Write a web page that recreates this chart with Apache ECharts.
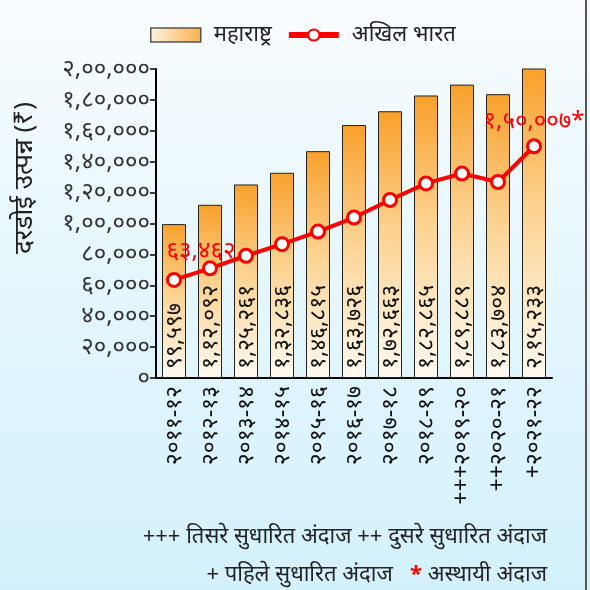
<!DOCTYPE html>
<html>
<head>
<meta charset="utf-8">
<script src="https://cdn.jsdelivr.net/npm/echarts@6/dist/echarts.min.js"></script>
<style>
  html, body { margin: 0; padding: 0; }
  #myChart {
    width: 590px;
    height: 590px;
    background: linear-gradient(to bottom, #f9fcfe 0%, #e4f6fc 50%, #d3f1fc 100%);
  }
</style>
</head>
<body>
<div id="myChart"></div>
<script>
  var years = ['२०११-१२', '२०१२-१३', '२०१३-१४', '२०१४-१५', '२०१५-१६', '२०१६-१७', '२०१७-१८', '२०१८-१९', '+++२०१९-२०', '++२०२०-२१', '+२०२१-२२']
  var maharashtra = [99597, 112092, 125261, 132836, 146815, 163726, 172663, 182865, 189889, 183704, 215233]
  var india = [63462, 70983, 79118, 86647, 94797, 103870, 115224, 125946, 132341, 126855, 150007]

  var font = '"Noto Sans", "DejaVu Sans", sans-serif'
  var digits = '०१२३४५६७८९'

  // Indian grouping + Devanagari digits
  function mr (n) {
    var s = String(Math.round(n))
    var last = s.slice(-3)
    var rest = s.slice(0, -3)
    if (rest) {
      rest = rest.replace(/\B(?=(\d{2})+(?!\d))/g, ',')
      s = rest + ',' + last
    } else {
      s = last
    }
    return s.replace(/\d/g, function (d) { return digits[+d] })
  }

  var barColor = new echarts.graphic.LinearGradient(0, 1, 1, 0, [
    { offset: 0, color: '#fefaf3' },
    { offset: 0.55, color: '#fcd290' },
    { offset: 1, color: '#f8a02a' }
  ])

  var myChart = echarts.init(document.getElementById('myChart'))
  var option = {
    animation: false,
    legend: {
      left: 145,
      top: 19,
      itemWidth: 50,
      itemHeight: 14,
      itemGap: 14,
      textStyle: { fontFamily: font, fontSize: 22, color: '#222', padding: [0, 0, 0, 8] },
      data: [
        { name: 'महाराष्ट्र', icon: 'rect', itemStyle: { borderColor: '#555', borderWidth: 1.5, color: new echarts.graphic.LinearGradient(0, 0, 1, 0, [{ offset: 0, color: '#fdf3e2' }, { offset: 1, color: '#f9b04c' }]) } },
        { name: 'अखिल भारत', lineStyle: { width: 6, color: '#f00' } }
      ]
    },
    grid: { left: 156, right: 38, top: 69, bottom: 212 },
    xAxis: {
      type: 'category',
      data: years,
      axisLine: { lineStyle: { color: '#000', width: 2 } },
      axisTick: { alignWithLabel: true, length: 6, lineStyle: { color: '#000', width: 1.5 } },
      axisLabel: { rotate: 90, fontFamily: font, fontSize: 23, color: '#111', margin: 8 }
    },
    yAxis: {
      type: 'value',
      min: 0,
      max: 200000,
      interval: 20000,
      splitLine: { show: false },
      axisLine: { show: true, lineStyle: { color: '#000', width: 2 } },
      axisTick: { show: true, length: 6, lineStyle: { color: '#000', width: 1.5 } },
      axisLabel: {
        fontFamily: font, fontSize: 24, color: '#333', margin: 6,
        formatter: function (v) { return mr(v) }
      }
    },
    series: [
      {
        name: 'महाराष्ट्र',
        type: 'bar',
        data: maharashtra,
        barWidth: 24,
        itemStyle: { borderColor: '#222', borderWidth: 1, color: barColor },
        label: {
          show: true,
          position: 'insideBottom',
          distance: 9,
          rotate: 90,
          align: 'left',
          verticalAlign: 'middle',
          fontFamily: font,
          fontSize: 23,
          color: '#111',
          formatter: function (p) { return mr(p.value) }
        }
      },
      {
        name: 'अखिल भारत',
        type: 'line',
        data: india,
        symbol: 'circle',
        symbolSize: 13,
        lineStyle: { color: '#f00', width: 4 },
        itemStyle: { color: '#fff', borderColor: '#f00', borderWidth: 3 },
        z: 5,
        label: {
          show: true,
          fontFamily: font,
          fontSize: 24,
          color: '#f00',
          formatter: function (p) {
            if (p.dataIndex === 0) return mr(p.value)
            if (p.dataIndex === india.length - 1) return mr(p.value) + '*'
            return ''
          }
        },
        labelLayout: function (params) {
          if (params.dataIndex === 0) return { dx: 27, dy: -4 }
          return { dy: 0 }
        }
      }
    ],
    graphic: [
      {
        type: 'text',
        x: 25,
        y: 178,
        rotation: Math.PI / 2,
        style: {
          text: 'दरडोई उत्पन्न (₹)',
          font: '26px ' + font,
          fill: '#222',
          align: 'center',
          verticalAlign: 'middle'
        }
      },
      {
        type: 'text',
        right: 43,
        top: 526,
        style: {
          text: '+++ तिसरे सुधारित अंदाज ++ दुसरे सुधारित अंदाज',
          font: '22px ' + font,
          fill: '#222'
        }
      },
      {
        type: 'text',
        right: 43,
        top: 564,
        style: {
          text: '+ पहिले सुधारित अंदाज   {r|*} अस्थायी अंदाज',
          font: '22px ' + font,
          fill: '#222',
          rich: { r: { fill: '#f00', font: 'bold 22px ' + font } }
        }
      },
      {
        type: 'rect',
        shape: { x: 585, y: 0, width: 2, height: 590 },
        style: { fill: '#555' }
      }
    ]
  }
  myChart.setOption(option)
</script>
</body>
</html>
